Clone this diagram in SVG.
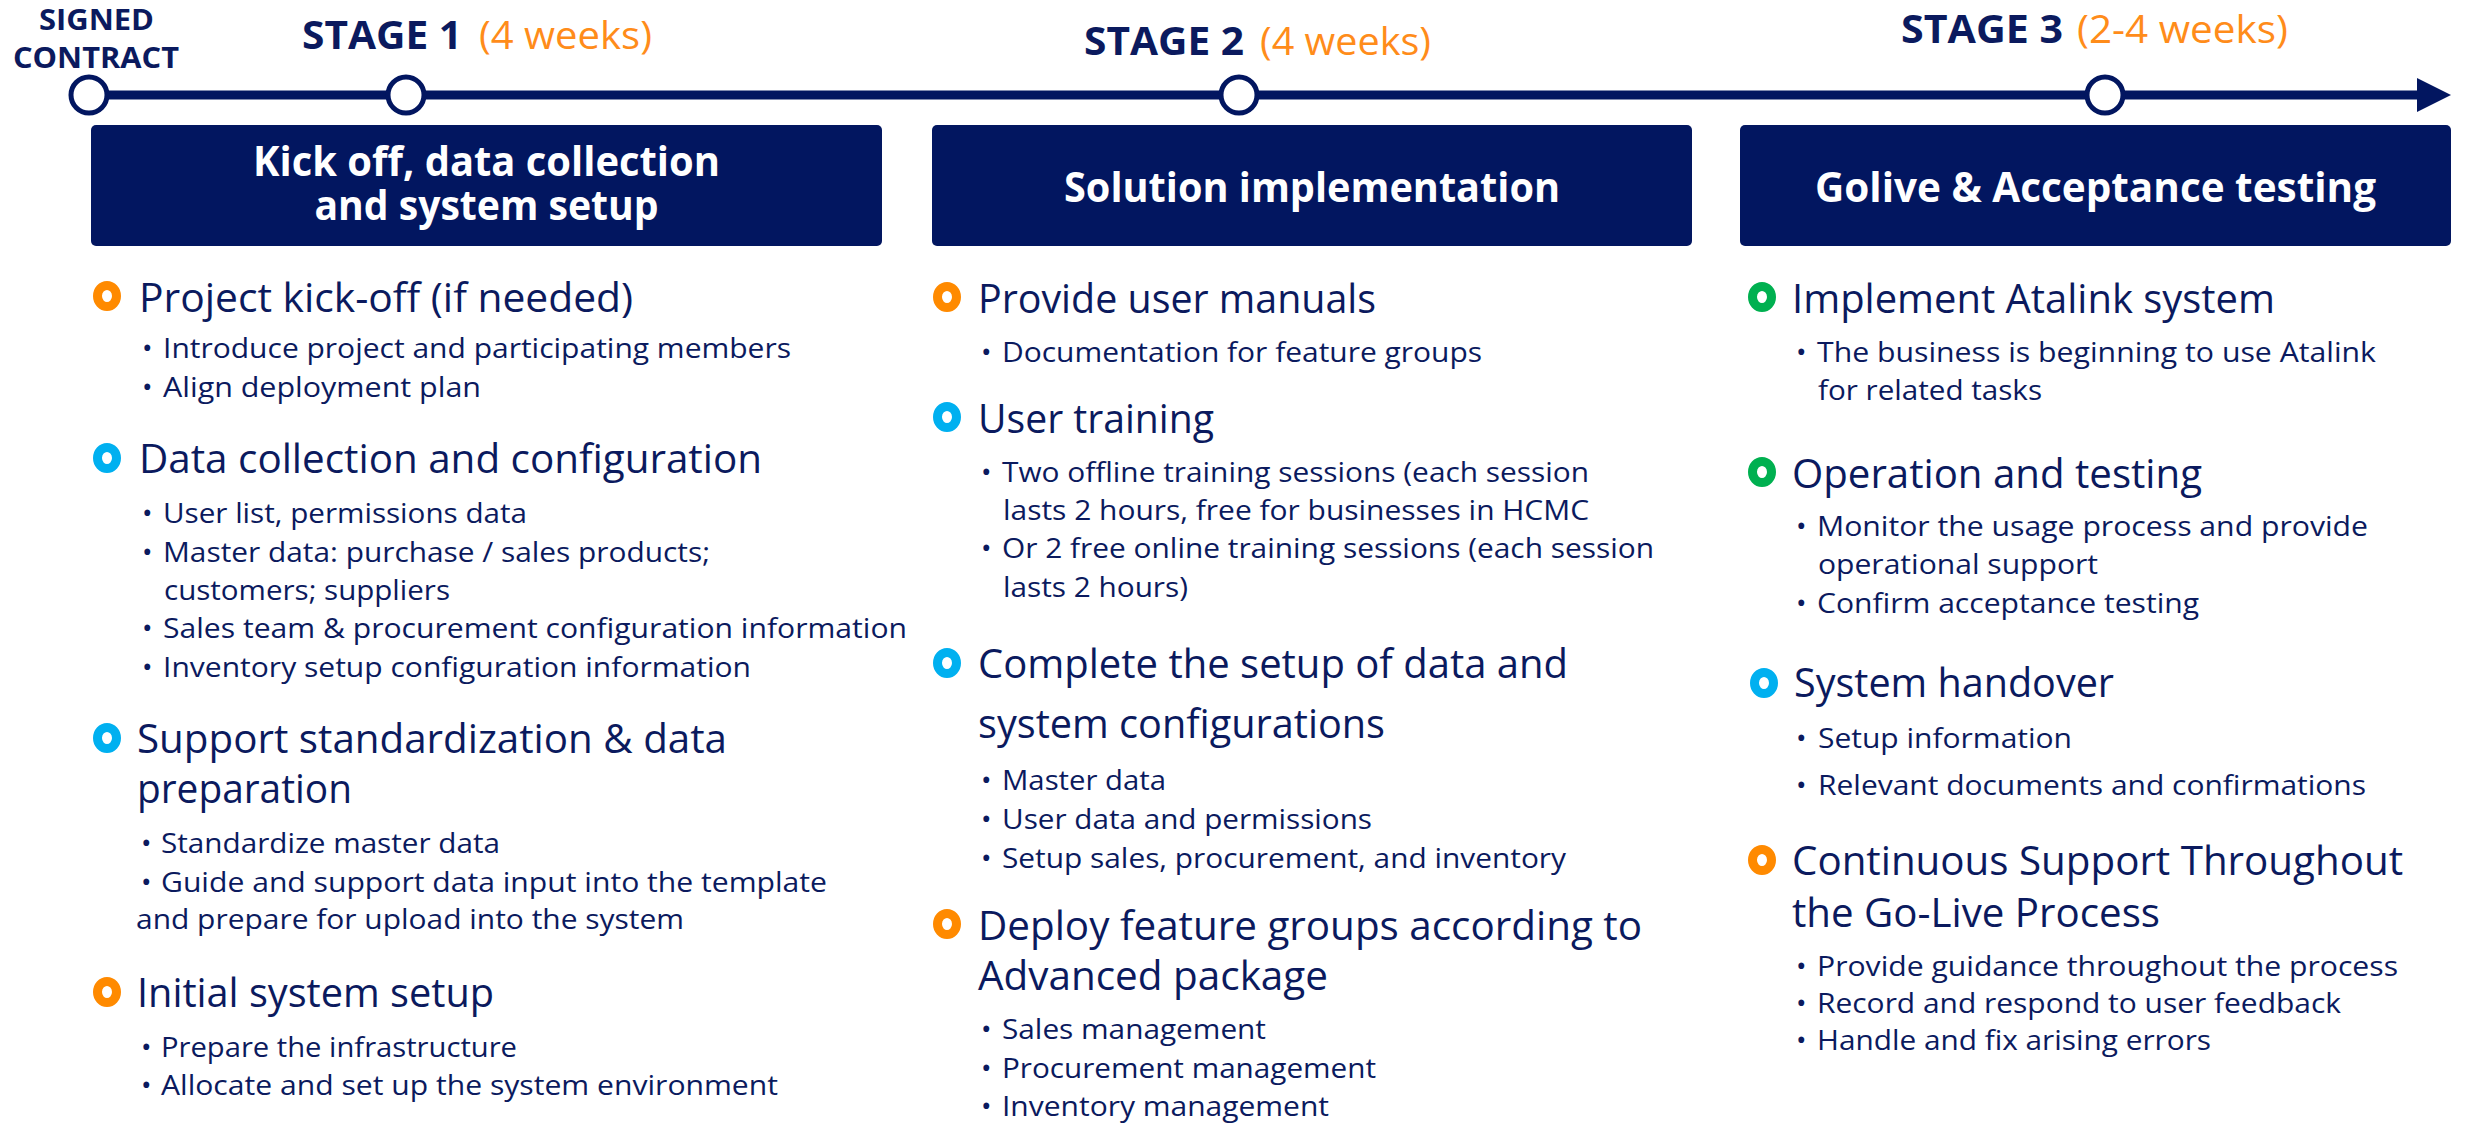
<svg xmlns="http://www.w3.org/2000/svg" width="2468" height="1123" viewBox="0 0 2468 1123">
<defs>
<style>
.bg{fill:#ffffff}
.box{fill:#021660}
.tl{stroke:#021660;stroke-width:9;fill:none}
.ms{fill:#ffffff;stroke:#021660;stroke-width:5}
.top{font-family:"Open Sans","Noto Sans",sans-serif;font-weight:700;fill:#0b1a5e}
.wk{font-family:"Open Sans","Noto Sans",sans-serif;font-weight:400;fill:#ff8c1a}
.bt{font-family:"Open Sans","Noto Sans",sans-serif;font-weight:700;font-size:42px;fill:#ffffff;text-anchor:middle}
.h{font-family:"Open Sans","Noto Sans",sans-serif;font-size:40px;fill:#0b1a5e}
.b{font-family:"Open Sans","Noto Sans",sans-serif;font-size:28px;fill:#0b1a5e}
.ring{fill:none;stroke-width:9}
.or{stroke:#ff8a00}
.cy{stroke:#00b0f0}
.gr{stroke:#00b050}
</style>
<marker id="arr" markerUnits="userSpaceOnUse" markerWidth="34" markerHeight="34" viewBox="0 0 34 34" refX="2" refY="17" orient="auto">
<path d="M0,0 L34,17 L0,34 Z" fill="#021660"/>
</marker>
</defs>
<rect class="bg" x="0" y="0" width="2468" height="1123"/>

<g id="connectors">
<line class="tl" x1="89" y1="95" x2="2419" y2="95" marker-end="url(#arr)"/>
</g>

<g id="m-signed">
<circle class="ms" cx="89" cy="95" r="18"/>
<text class="top" font-size="28" x="39" y="30" textLength="115" lengthAdjust="spacingAndGlyphs">SIGNED</text>
<text class="top" font-size="28" x="13" y="68" textLength="166" lengthAdjust="spacingAndGlyphs">CONTRACT</text>
</g>
<g id="m-stage1">
<circle class="ms" cx="406" cy="95" r="18"/>
<text class="top" font-size="39" x="302" y="49" textLength="160" lengthAdjust="spacingAndGlyphs">STAGE 1</text>
<text class="wk" font-size="39" x="479" y="49" textLength="173" lengthAdjust="spacingAndGlyphs">(4 weeks)</text>
</g>
<g id="m-stage2">
<circle class="ms" cx="1239" cy="95" r="18"/>
<text class="top" font-size="39" x="1084" y="55" textLength="160" lengthAdjust="spacingAndGlyphs">STAGE 2</text>
<text class="wk" font-size="39" x="1260" y="55" textLength="171" lengthAdjust="spacingAndGlyphs">(4 weeks)</text>
</g>
<g id="m-stage3">
<circle class="ms" cx="2105" cy="95" r="18"/>
<text class="top" font-size="39" x="1901" y="43" textLength="162" lengthAdjust="spacingAndGlyphs">STAGE 3</text>
<text class="wk" font-size="39" x="2077" y="43" textLength="211" lengthAdjust="spacingAndGlyphs">(2-4 weeks)</text>
</g>

<g id="box1">
<rect class="box" x="91" y="125" width="791" height="121" rx="5"/>
<text class="bt" x="486.5" y="176" textLength="467" lengthAdjust="spacingAndGlyphs">Kick off, data collection</text>
<text class="bt" x="486.5" y="220" textLength="344" lengthAdjust="spacingAndGlyphs">and system setup</text>
</g>
<g id="box2">
<rect class="box" x="932" y="125" width="760" height="121" rx="5"/>
<text class="bt" x="1312" y="202" textLength="496" lengthAdjust="spacingAndGlyphs">Solution implementation</text>
</g>
<g id="box3">
<rect class="box" x="1740" y="125" width="711" height="121" rx="5"/>
<text class="bt" x="2095.5" y="202" textLength="561" lengthAdjust="spacingAndGlyphs">Golive &amp; Acceptance testing</text>
</g>

<!-- Column 1 -->
<g id="c1-kickoff">
<ellipse class="ring or" cx="107" cy="296" rx="9.5" ry="10.5"/>
<text class="h" x="139" y="312" textLength="494" lengthAdjust="spacingAndGlyphs">Project kick-off (if needed)</text>
<text class="b" x="142" y="358">•</text><text class="b" x="163" y="358" textLength="628" lengthAdjust="spacingAndGlyphs">Introduce project and participating members</text>
<text class="b" x="142" y="397">•</text><text class="b" x="163" y="397" textLength="318" lengthAdjust="spacingAndGlyphs">Align deployment plan</text>
</g>
<g id="c1-data">
<ellipse class="ring cy" cx="107" cy="458" rx="9.5" ry="10.5"/>
<text class="h" x="139" y="473" textLength="623" lengthAdjust="spacingAndGlyphs">Data collection and configuration</text>
<text class="b" x="142" y="523">•</text><text class="b" x="163" y="523" textLength="364" lengthAdjust="spacingAndGlyphs">User list, permissions data</text>
<text class="b" x="142" y="562">•</text><text class="b" x="163" y="562" textLength="547" lengthAdjust="spacingAndGlyphs">Master data: purchase / sales products;</text>
<text class="b" x="164" y="600" textLength="286" lengthAdjust="spacingAndGlyphs">customers; suppliers</text>
<text class="b" x="142" y="638">•</text><text class="b" x="163" y="638" textLength="744" lengthAdjust="spacingAndGlyphs">Sales team &amp; procurement configuration information</text>
<text class="b" x="142" y="677">•</text><text class="b" x="163" y="677" textLength="588" lengthAdjust="spacingAndGlyphs">Inventory setup configuration information</text>
</g>
<g id="c1-support">
<ellipse class="ring cy" cx="107" cy="738" rx="9.5" ry="10.5"/>
<text class="h" x="137" y="753" textLength="590" lengthAdjust="spacingAndGlyphs">Support standardization &amp; data</text>
<text class="h" x="137" y="803" textLength="215" lengthAdjust="spacingAndGlyphs">preparation</text>
<text class="b" x="141" y="853">•</text><text class="b" x="161" y="853" textLength="339" lengthAdjust="spacingAndGlyphs">Standardize master data</text>
<text class="b" x="141" y="892">•</text><text class="b" x="161" y="892" textLength="666" lengthAdjust="spacingAndGlyphs">Guide and support data input into the template</text>
<text class="b" x="136" y="929" textLength="548" lengthAdjust="spacingAndGlyphs">and prepare for upload into the system</text>
</g>
<g id="c1-initial">
<ellipse class="ring or" cx="107" cy="992" rx="9.5" ry="10.5"/>
<text class="h" x="137" y="1007" textLength="357" lengthAdjust="spacingAndGlyphs">Initial system setup</text>
<text class="b" x="141" y="1057">•</text><text class="b" x="161" y="1057" textLength="356" lengthAdjust="spacingAndGlyphs">Prepare the infrastructure</text>
<text class="b" x="141" y="1095">•</text><text class="b" x="161" y="1095" textLength="617" lengthAdjust="spacingAndGlyphs">Allocate and set up the system environment</text>
</g>

<!-- Column 2 -->
<g id="c2-manuals">
<ellipse class="ring or" cx="947" cy="297" rx="9.5" ry="10.5"/>
<text class="h" x="978" y="313" textLength="398" lengthAdjust="spacingAndGlyphs">Provide user manuals</text>
<text class="b" x="981" y="362">•</text><text class="b" x="1002" y="362" textLength="480" lengthAdjust="spacingAndGlyphs">Documentation for feature groups</text>
</g>
<g id="c2-training">
<ellipse class="ring cy" cx="947" cy="417" rx="9.5" ry="10.5"/>
<text class="h" x="978" y="433" textLength="236" lengthAdjust="spacingAndGlyphs">User training</text>
<text class="b" x="981" y="482">•</text><text class="b" x="1002" y="482" textLength="587" lengthAdjust="spacingAndGlyphs">Two offline training sessions (each session</text>
<text class="b" x="1003" y="520" textLength="586" lengthAdjust="spacingAndGlyphs">lasts 2 hours, free for businesses in HCMC</text>
<text class="b" x="981" y="558">•</text><text class="b" x="1002" y="558" textLength="652" lengthAdjust="spacingAndGlyphs">Or 2 free online training sessions (each session</text>
<text class="b" x="1003" y="597" textLength="185" lengthAdjust="spacingAndGlyphs">lasts 2 hours)</text>
</g>
<g id="c2-complete">
<ellipse class="ring cy" cx="947" cy="663" rx="9.5" ry="10.5"/>
<text class="h" x="978" y="678" textLength="590" lengthAdjust="spacingAndGlyphs">Complete the setup of data and</text>
<text class="h" x="978" y="738" textLength="407" lengthAdjust="spacingAndGlyphs">system configurations</text>
<text class="b" x="981" y="790">•</text><text class="b" x="1002" y="790" textLength="164" lengthAdjust="spacingAndGlyphs">Master data</text>
<text class="b" x="981" y="829">•</text><text class="b" x="1002" y="829" textLength="370" lengthAdjust="spacingAndGlyphs">User data and permissions</text>
<text class="b" x="981" y="868">•</text><text class="b" x="1002" y="868" textLength="564" lengthAdjust="spacingAndGlyphs">Setup sales, procurement, and inventory</text>
</g>
<g id="c2-deploy">
<ellipse class="ring or" cx="947" cy="924" rx="9.5" ry="10.5"/>
<text class="h" x="978" y="940" textLength="664" lengthAdjust="spacingAndGlyphs">Deploy feature groups according to</text>
<text class="h" x="978" y="990" textLength="350" lengthAdjust="spacingAndGlyphs">Advanced package</text>
<text class="b" x="981" y="1039">•</text><text class="b" x="1002" y="1039" textLength="264" lengthAdjust="spacingAndGlyphs">Sales management</text>
<text class="b" x="981" y="1078">•</text><text class="b" x="1002" y="1078" textLength="374" lengthAdjust="spacingAndGlyphs">Procurement management</text>
<text class="b" x="981" y="1116">•</text><text class="b" x="1002" y="1116" textLength="327" lengthAdjust="spacingAndGlyphs">Inventory management</text>
</g>

<!-- Column 3 -->
<g id="c3-implement">
<ellipse class="ring gr" cx="1762" cy="297" rx="9.5" ry="10.5"/>
<text class="h" x="1792" y="313" textLength="483" lengthAdjust="spacingAndGlyphs">Implement Atalink system</text>
<text class="b" x="1796" y="362">•</text><text class="b" x="1817" y="362" textLength="559" lengthAdjust="spacingAndGlyphs">The business is beginning to use Atalink</text>
<text class="b" x="1818" y="400" textLength="224" lengthAdjust="spacingAndGlyphs">for related tasks</text>
</g>
<g id="c3-operation">
<ellipse class="ring gr" cx="1762" cy="472" rx="9.5" ry="10.5"/>
<text class="h" x="1792" y="488" textLength="410" lengthAdjust="spacingAndGlyphs">Operation and testing</text>
<text class="b" x="1796" y="536">•</text><text class="b" x="1817" y="536" textLength="551" lengthAdjust="spacingAndGlyphs">Monitor the usage process and provide</text>
<text class="b" x="1818" y="574" textLength="280" lengthAdjust="spacingAndGlyphs">operational support</text>
<text class="b" x="1796" y="613">•</text><text class="b" x="1817" y="613" textLength="382" lengthAdjust="spacingAndGlyphs">Confirm acceptance testing</text>
</g>
<g id="c3-handover">
<ellipse class="ring cy" cx="1764" cy="683" rx="9.5" ry="10.5"/>
<text class="h" x="1794" y="697" textLength="320" lengthAdjust="spacingAndGlyphs">System handover</text>
<text class="b" x="1796" y="748">•</text><text class="b" x="1818" y="748" textLength="254" lengthAdjust="spacingAndGlyphs">Setup information</text>
<text class="b" x="1796" y="795">•</text><text class="b" x="1818" y="795" textLength="548" lengthAdjust="spacingAndGlyphs">Relevant documents and confirmations</text>
</g>
<g id="c3-continuous">
<ellipse class="ring or" cx="1762" cy="860" rx="9.5" ry="10.5"/>
<text class="h" x="1792" y="875" textLength="611" lengthAdjust="spacingAndGlyphs">Continuous Support Throughout</text>
<text class="h" x="1792" y="927" textLength="368" lengthAdjust="spacingAndGlyphs">the Go-Live Process</text>
<text class="b" x="1796" y="976">•</text><text class="b" x="1817" y="976" textLength="581" lengthAdjust="spacingAndGlyphs">Provide guidance throughout the process</text>
<text class="b" x="1796" y="1013">•</text><text class="b" x="1817" y="1013" textLength="524" lengthAdjust="spacingAndGlyphs">Record and respond to user feedback</text>
<text class="b" x="1796" y="1050">•</text><text class="b" x="1817" y="1050" textLength="394" lengthAdjust="spacingAndGlyphs">Handle and fix arising errors</text>
</g>
</svg>
